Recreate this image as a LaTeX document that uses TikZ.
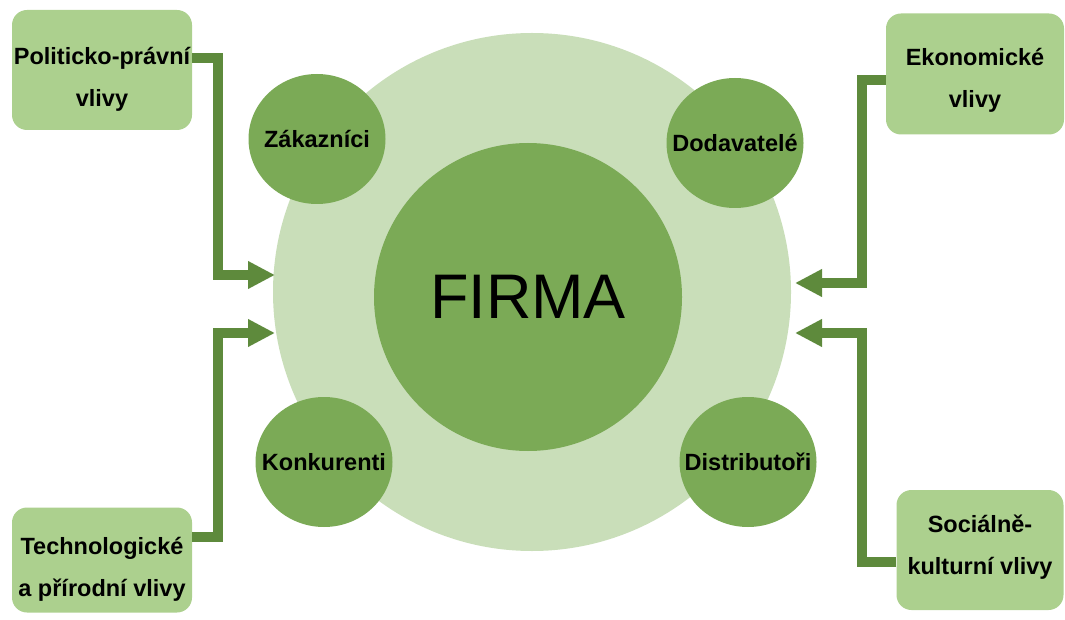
\documentclass[tikz,border=0pt]{standalone}
\usepackage{fontspec}
\setmainfont{Liberation Sans}
\usetikzlibrary{arrows.meta,shapes.geometric}
\definecolor{ringgreen}{HTML}{C9DEB9}
\definecolor{boxgreen}{HTML}{ACD08E}
\definecolor{circgreen}{HTML}{7BAA56}
\definecolor{arrowgreen}{HTML}{5E8A3C}
\newcommand{\stred}[1]{\makebox[0pt]{#1}}
\tikzset{vliv/.style={fill=boxgreen, rounded corners=15pt, inner sep=0pt}}
\tikzset{vlivtext/.style={align=center, inner sep=0pt, font=\fontsize{23.5}{42}\selectfont\bfseries}}
\tikzset{aktor/.style={ellipse, fill=circgreen, inner sep=0pt, minimum width=137pt, minimum height=130pt, font=\fontsize{23.5}{26}\selectfont\bfseries}}
\tikzset{tok/.style={draw=arrowgreen, line width=10pt, -{Triangle[length=27pt,width=26pt]}}}

\begin{document}
\begin{tikzpicture}[x=1pt, y=-1pt]
		\useasboundingbox (0,0) rectangle (1065,620);
		
		% okoli firmy
		\node[circle, fill=ringgreen, inner sep=0pt, minimum size=518pt] (okoli) at (532,292) {};
		\node[circle, fill=circgreen, inner sep=0pt, minimum size=308pt, font=\fontsize{63}{70}\selectfont] (firma) at (528,297) {FIRMA};
		
		\node[aktor] (zak) at (317,139) {\stred{Zákazníci}};
		\node[aktor] (dod) at (735,143) {\stred{Dodavatelé}};
		\node[aktor] (kon) at (324,462) {\stred{Konkurenti}};
		\node[aktor] (dis) at (748,462) {\stred{Distributoři}};
		
		% vlivy
		\node[vliv, minimum width=180pt, minimum height=120pt,
			label={[vlivtext, yshift=-9pt]center:Politicko-právní\\vlivy}] (pol) at (102,70) {};
		\node[vliv, minimum width=178pt, minimum height=121pt,
			label={[vlivtext, yshift=-6pt]center:Ekonomické\\vlivy}] (eko) at (975,74) {};
		\node[vliv, minimum width=180pt, minimum height=105pt,
			label={[vlivtext, yshift=-9pt]center:Technologické\\a přírodní vlivy}] (tech) at (102,560) {};
		\node[vliv, minimum width=167pt, minimum height=120pt,
			label={[vlivtext, yshift=3pt]center:Sociálně-\\kulturní vlivy}] (soc) at (980,550) {};
		
		\coordinate (inPol) at (275,275);
		\coordinate (inTech) at (275,333);
		\coordinate (inEko) at (795,283);
		\coordinate (inSoc) at (795,333);
		
		\draw[tok] ([yshift=12pt]pol.east) -| (218,275) -- (inPol);
		\draw[tok] ([yshift=23pt]tech.east) -| (218,333) -- (inTech);
		\draw[tok] ([yshift=-6pt]eko.west) -| (862,283) -- (inEko);
		\draw[tok] ([yshift=-12pt]soc.west) -| (862,333) -- (inSoc);
	\end{tikzpicture}
\end{document}
